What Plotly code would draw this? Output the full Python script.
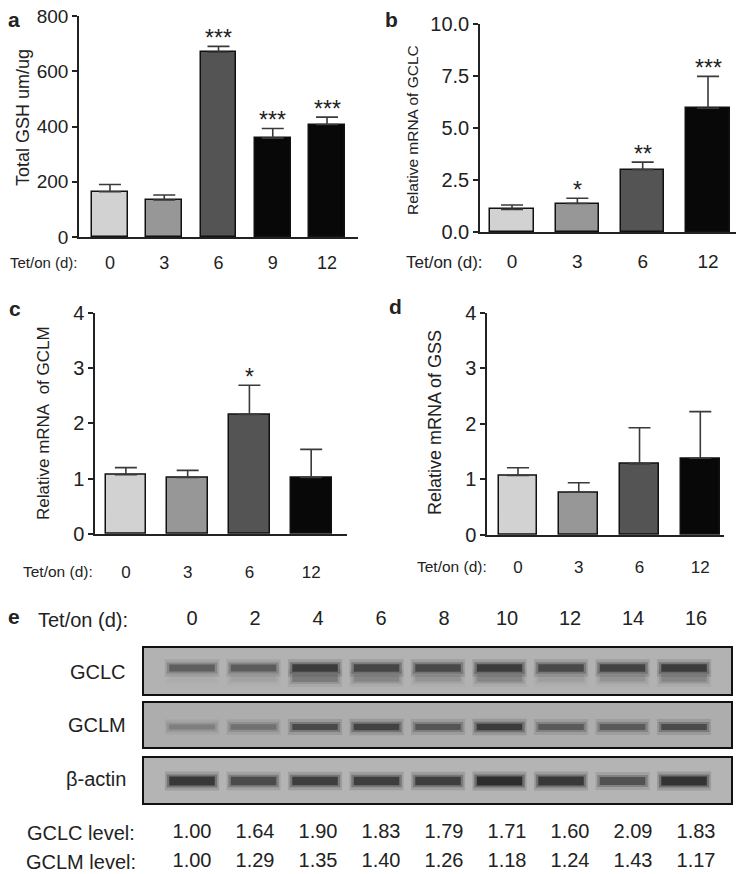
import plotly.graph_objects as go

W, H = 744, 874
OFF = 8  # the page body margin pushes the figure 8px right and down
FONT = "Arial, Liberation Sans, sans-serif"
INK = "#222222"

# ----------------------------------------------------------------------------
# Data
# ----------------------------------------------------------------------------

# a: total GSH (um/ug)
a_days = ["0", "3", "6", "9", "12"]
a_mean = [164, 134, 669, 358, 407]
a_sem = [26, 18, 21, 35, 27]
a_sig = ["", "", "***", "***", "***"]

# b: relative mRNA of GCLC
b_days = ["0", "3", "6", "12"]
b_mean = [1.09, 1.37, 3.00, 5.95]
b_sem = [0.21, 0.25, 0.36, 1.53]
b_sig = ["", "*", "**", "***"]

# c: relative mRNA of GCLM
c_days = ["0", "3", "6", "12"]
c_mean = [1.07, 1.02, 2.16, 1.02]
c_sem = [0.13, 0.13, 0.53, 0.51]
c_sig = ["", "", "*", ""]

# d: relative mRNA of GSS
d_days = ["0", "3", "6", "12"]
d_mean = [1.07, 0.77, 1.28, 1.38]
d_sem = [0.14, 0.17, 0.65, 0.84]
d_sig = ["", "", "", ""]

# e: western blot
e_days = ["0", "2", "4", "6", "8", "10", "12", "14", "16"]
gclc_level = ["1.00", "1.64", "1.90", "1.83", "1.79", "1.71", "1.60", "2.09", "1.83"]
gclm_level = ["1.00", "1.29", "1.35", "1.40", "1.26", "1.18", "1.24", "1.43", "1.17"]
# band darkness (0 = none, 1 = black), estimated by eye
gclc_band = [0.60, 0.62, 0.85, 0.78, 0.76, 0.85, 0.76, 0.80, 0.86]
gclc_lower = [0.05, 0.12, 0.40, 0.32, 0.22, 0.32, 0.15, 0.22, 0.32]
gclm_band = [0.35, 0.45, 0.75, 0.80, 0.66, 0.86, 0.62, 0.62, 0.74]
actin_band = [0.88, 0.75, 0.84, 0.84, 0.84, 0.96, 0.88, 0.70, 0.92]

SHADES_5 = ["#d2d2d2", "#979797", "#545454", "#080808", "#080808"]
SHADES_4 = ["#d2d2d2", "#979797", "#545454", "#080808"]


def px(x):
    return (x - OFF) / W


def py(y):
    return 1 - (y - OFF) / H


fig = go.Figure()
annotations = []
shapes = []


def note(x, y, text, size, **kw):
    kw.setdefault("xanchor", "center")
    kw.setdefault("yanchor", "middle")
    annotations.append(dict(
        x=px(x), y=py(y), xref="paper", yref="paper", text=text,
        showarrow=False, font=dict(family=FONT, size=size, color=INK), **kw
    ))


# ----------------------------------------------------------------------------
# Bar panels a-d
# ----------------------------------------------------------------------------

def bar_panel(n, days, mean, sem, sig, colors, xdom, ydom, xr, ymax, yticks,
              ytext, tick_size, xlab_size, standoff, bar_w):
    xa, ya = ("x", "y") if n == 1 else (f"x{n}", f"y{n}")
    xs = list(range(len(days)))
    fig.add_trace(go.Bar(
        x=xs, y=mean, width=bar_w, xaxis=xa, yaxis=ya,
        marker=dict(color=colors, line=dict(color="#111111", width=1.5)),
        error_y=dict(type="data", symmetric=False, array=sem,
                     arrayminus=[0] * len(sem), color="#3a3a3a",
                     thickness=1.6, width=11),
        showlegend=False,
    ))
    for i, s in enumerate(sig):
        if s:
            annotations.append(dict(
                x=i, y=mean[i] + sem[i], xref=xa, yref=ya, text=s,
                showarrow=False, xanchor="center", yanchor="bottom", yshift=-7,
                font=dict(family=FONT, size=23, color=INK),
            ))
    key = "" if n == 1 else str(n)
    fig.layout["xaxis" + key] = dict(
        domain=[px(xdom[0]), px(xdom[1])], range=xr, anchor=ya,
        showline=True, linecolor=INK, linewidth=1.5, ticks="",
        tickvals=xs, ticktext=days, showgrid=False, zeroline=False,
        tickfont=dict(family=FONT, size=xlab_size, color=INK),
        ticklabelstandoff=standoff, ticklabeloverflow="allow",
        fixedrange=True, automargin=False,
    )
    fig.layout["yaxis" + key] = dict(
        domain=[py(ydom[0]), py(ydom[1])], range=[0, ymax], anchor=xa,
        showline=True, linecolor=INK, linewidth=1.5, ticks="outside",
        ticklen=5, tickwidth=1.5, tickcolor=INK, tickvals=yticks,
        ticktext=ytext, showgrid=False, zeroline=False,
        tickfont=dict(family=FONT, size=tick_size, color=INK),
        ticklabeloverflow="allow", fixedrange=True, automargin=False,
    )


bar_panel(1, a_days, a_mean, a_sem, a_sig, SHADES_5, (79, 358), (237, 16),
          [-0.571, 4.571], 800, [0, 200, 400, 600, 800],
          ["0", "200", "400", "600", "800"], 19, 18, 9, 0.66)
bar_panel(2, b_days, b_mean, b_sem, b_sig, SHADES_4, (480, 742), (232, 24),
          [-0.49, 3.52], 10, [0, 2.5, 5, 7.5, 10],
          ["0.0", "2.5", "5.0", "7.5", "10.0"], 20, 19, 11, 0.66)
bar_panel(3, c_days, c_mean, c_sem, c_sig, SHADES_4, (95, 347), (534, 312.7),
          [-0.50, 3.58], 4, [0, 1, 2, 3, 4],
          ["0", "1", "2", "3", "4"], 20, 17, 22, 0.66)
bar_panel(4, d_days, d_mean, d_sem, d_sig, SHADES_4, (487, 724), (535, 312.7),
          [-0.51, 3.39], 4, [0, 1, 2, 3, 4],
          ["0", "1", "2", "3", "4"], 20, 17, 16, 0.64)

# axis titles and x label captions
note(23, 118, "Total GSH um/ug", 18, textangle=-90)
note(412, 130, "Relative mRNA of GCLC", 15.5, textangle=-90)
note(43, 423, "Relative mRNA&nbsp; of GCLM", 17, textangle=-90)
note(435, 423, "Relative mRNA of GSS", 18, textangle=-90)

note(44, 262, "Tet/on (d):", 15)
note(444, 262, "Tet/on (d):", 17)
note(58, 571, "Tet/on (d):", 15.5)
note(452, 566, "Tet/on (d):", 15.5)

for letter, x, y in [("a", 14, 19), ("b", 391, 20), ("c", 15, 308), ("d", 395, 307), ("e", 14, 616)]:
    note(x, y, f"<b>{letter}</b>", 21)

# ----------------------------------------------------------------------------
# Panel e: blot strips (one axis pair, y in pixel rows)
# ----------------------------------------------------------------------------

BLOT_X = (143, 732)
lanes = list(range(len(e_days)))
fig.layout["xaxis5"] = dict(domain=[px(BLOT_X[0]), px(BLOT_X[1])],
                            range=[-0.797, 8.78], anchor="y5", visible=False,
                            fixedrange=True, automargin=False)
fig.layout["yaxis5"] = dict(domain=[py(806), py(645)], range=[806, 645],
                            anchor="x5", visible=False, fixedrange=True,
                            automargin=False)

strips = [
    # top, bottom, background, label, label row, bands [(darkness, row, thickness)]
    (647, 695, "#b2b2b2", "GCLC", 672, [(gclc_lower, 678, 9), (gclc_band, 668, 7)]),
    (702, 748, "#adadad", "GCLM", 725, [(gclm_band, 727, 6)]),
    (757, 804, "#b4b4b4", "β-actin", 779, [(actin_band, 781, 8)]),
]

for top, bot, bg, label, ly, bands in strips:
    shapes.append(dict(type="rect", xref="x5 domain", yref="y5",
                       x0=0, x1=1, y0=top, y1=bot, fillcolor=bg,
                       line=dict(color="#111111", width=2), layer="below"))
    base = int(bg[1:3], 16)
    for darkness, row, thick in bands:
        for i, v in zip(lanes, darkness):
            g = int(base - v * (base - 40))
            w = thick * (0.7 + 0.45 * v)
            # soft edge layers, then the band core
            for half, extra, alpha in [(0.44, 10, 0.18), (0.41, 4, 0.4), (0.37, 0, 1.0)]:
                fig.add_trace(go.Scatter(
                    x=[i - half, i + half], y=[row, row], xaxis="x5", yaxis="y5",
                    mode="lines",
                    line=dict(color=f"rgba({g},{g},{g},{alpha})", width=w + extra),
                    showlegend=False, hoverinfo="skip",
                ))
    note(128, ly, label, 20, xanchor="right")

# text rows (lane labels and quantification) on their own axis pair
fig.layout["xaxis6"] = dict(domain=[px(BLOT_X[0]), px(BLOT_X[1])],
                            range=[-0.778, 8.571], anchor="y6", visible=False,
                            fixedrange=True, automargin=False)
fig.layout["yaxis6"] = dict(domain=[py(874), py(600)], range=[874, 600], anchor="x6",
                            visible=False, fixedrange=True, automargin=False)

for row_y, texts in [(620, e_days), (833, gclc_level), (862, gclm_level)]:
    fig.add_trace(go.Scatter(
        x=lanes, y=[row_y] * len(lanes), text=texts, mode="text",
        xaxis="x6", yaxis="y6", textposition="middle center",
        textfont=dict(family=FONT, size=20, color=INK),
        showlegend=False, hoverinfo="skip", cliponaxis=False,
    ))

note(83, 620, "Tet/on (d):", 20)
note(81, 833, "GCLC level:", 20)
note(81, 862, "GCLM level:", 20)

fig.update_layout(
    width=W, height=H, margin=dict(l=0, r=0, t=0, b=0, pad=0),
    paper_bgcolor="white", plot_bgcolor="rgba(0,0,0,0)",
    annotations=annotations, shapes=shapes, hovermode=False,
    bargap=0, showlegend=False,
)

fig.write_html("out.html")
